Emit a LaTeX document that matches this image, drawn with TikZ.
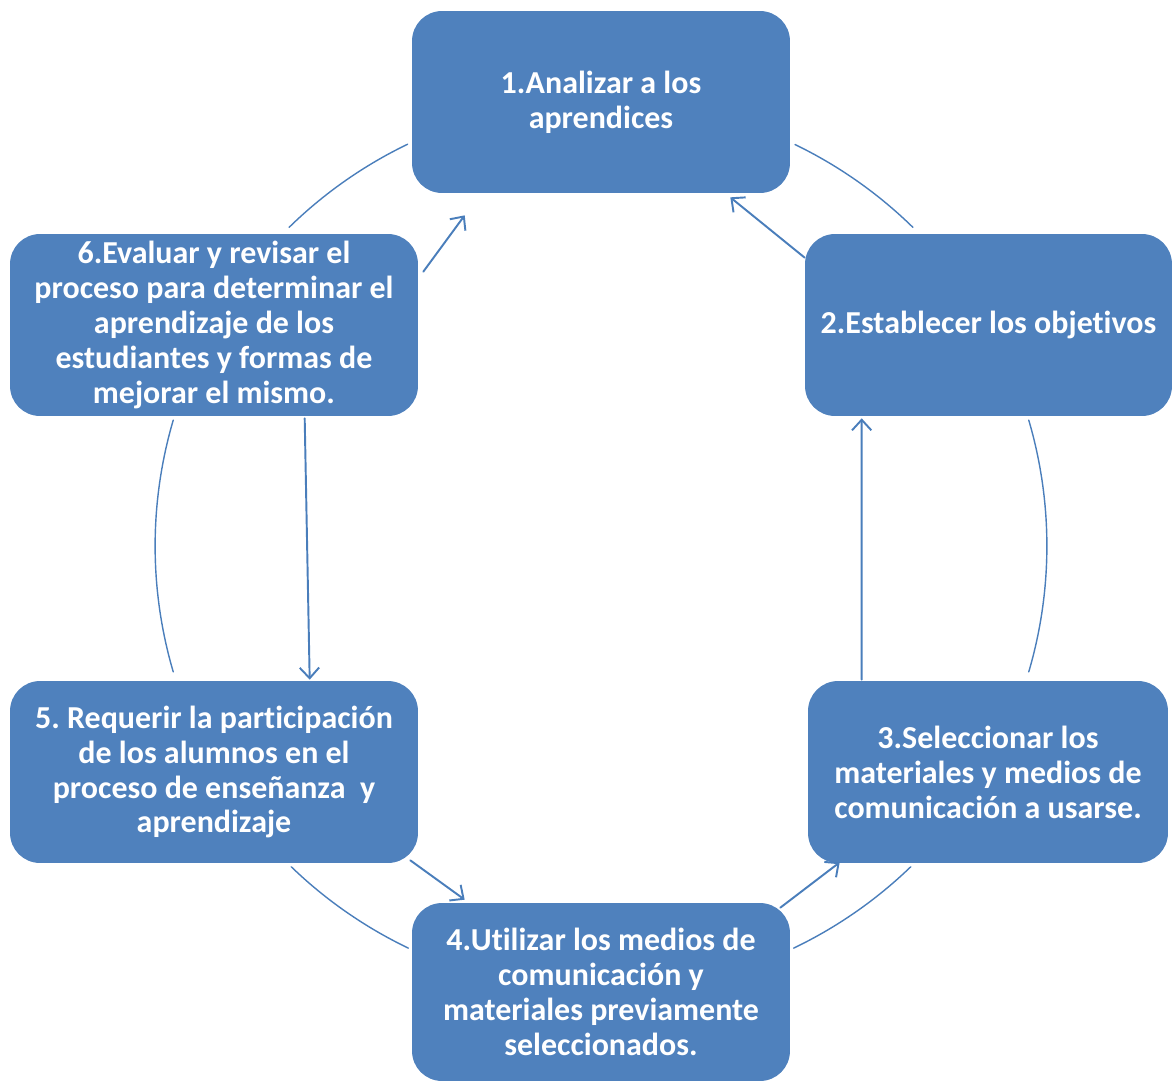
\documentclass[tikz,border=0pt]{standalone}
\usepackage{fontspec}
\setmainfont[Ligatures=NoCommon]{Carlito}
\usetikzlibrary{calc,arrows.meta}
\definecolor{boxblue}{HTML}{4F81BD}
\definecolor{lineblue}{HTML}{4A7EBB}
\frenchspacing
\begin{document}
\begin{tikzpicture}[x=0.02cm,y=-0.02cm,>={Straight Barb[length=6pt,width=11pt]},
            line join=round,line cap=round,
            box/.style={draw=none,fill=boxblue,rounded corners=0.6cm,text=white,
            align=center,inner sep=0pt,font=\fontsize{18.2}{19.9}\selectfont\bfseries},
            link/.style={->,draw=lineblue,line width=1.1pt},
            ring/.style={draw=lineblue,line width=0.8pt}]
            \useasboundingbox (0,0) rectangle (1174,1082);
            \node[box,minimum width=7.56cm,minimum height=3.64cm] (n1) at (601,102)
                {1.Analizar a los\\aprendices};
            \node[box,minimum width=7.34cm,minimum height=3.64cm] (n2) at (988.5,325)
                {2.Establecer los objetivos};
            \node[box,minimum width=7.2cm,minimum height=3.64cm] (n3) at (988,772)
                {3.Seleccionar los\\materiales y medios de\\comunicación a usarse.};
            \node[box,minimum width=7.56cm,minimum height=3.56cm] (n4) at (601,992)
                {4.Utilizar los medios de\\comunicación y\\materiales previamente\\seleccionados.};
            \node[box,minimum width=8.16cm,minimum height=3.64cm] (n5) at (214,772)
                {5. Requerir la participación\\de los alumnos en el\\proceso de enseñanza~ y\\aprendizaje};
            \node[box,minimum width=8.16cm,minimum height=3.64cm] (n6) at (214,325)
                {6.Evaluar y revisar el\\proceso para determinar el\\aprendizaje de los\\estudiantes y formas de\\mejorar el mismo.};
            % ring between the boxes
            \coordinate (ctr) at (601,546);
            \foreach \a/\b in {115.7/134.4,64.2/45.6,16.4/-16.4,163.6/196.4,226/244.4,295.6/314}
                \draw[ring] ([shift={(\a:8.92cm)}]ctr) arc[start angle=\a,end angle=\b,radius=8.92cm];
            % arrows
            \draw[link] ($(n2.north west)+(0,24)$) -- ($(n1.south east)+(-60,4)$);
            \draw[link] ($(n3.north west)+(54,-1)$) -- ($(n2.south west)+(57,2)$);
            \draw[link] ($(n4.north east)+(-10,5)$) -- ($(n3.south west)+(32,-1)$);
            \draw[link] ($(n5.south east)+(-8,-3)$) -- ($(n4.north west)+(53,-3)$);
            \draw[link] ($(n6.south west)+(295,2)$) -- ($(n5.north west)+(300,-1)$);
            \draw[link] ($(n6.north east)+(5,38)$) -- ($(n1.south west)+(53,22)$);
\end{tikzpicture}
\end{document}
